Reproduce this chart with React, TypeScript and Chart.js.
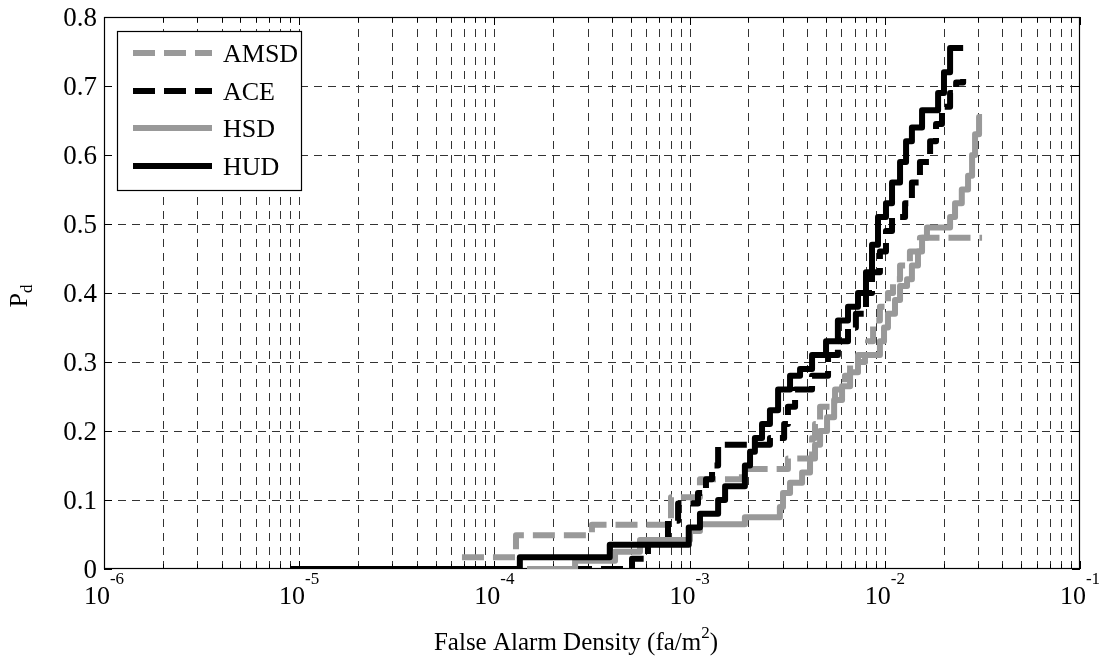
import React, { useEffect, useRef } from "react";
import { Chart, registerables } from "chart.js";

Chart.register(...registerables);

// ---------- data ----------
const SERIES_NAMES = ["AMSD", "ACE", "HSD", "HUD"];

const AMSD_X = [6.82e-5, 1.29e-4, 3.16e-4, 8.03e-4, 1.13e-3, 1.854e-3, 3.19e-3, 4.24e-3, 4.39e-3, 4.66e-3, 5.56e-3, 6.25e-3, 6.64e-3, 7.29e-3, 8.2e-3, 8.71e-3, 9.44e-3, 1.038e-2, 1.102e-2, 1.197e-2, 1.345e-2, 1.514e-2, 3.15e-2];
const AMSD_Y = [0.017, 0.049, 0.064, 0.104, 0.13, 0.145, 0.16, 0.19, 0.21, 0.235, 0.26, 0.28, 0.3, 0.31, 0.33, 0.36, 0.38, 0.4, 0.42, 0.44, 0.46, 0.48, 0.48];

const ACE_X = [2.44e-4, 5.07e-4, 6.12e-4, 7.75e-4, 8.73e-4, 1.104e-3, 1.213e-3, 1.303e-3, 1.4e-3, 2.58e-3, 3.05e-3, 3.19e-3, 3.47e-3, 4.24e-3, 5.12e-3, 5.75e-3, 6.48e-3, 7.11e-3, 8.01e-3, 8.6e-3, 9.44e-3, 1.014e-2, 1.089e-2, 1.27e-2, 1.377e-2, 1.514e-2, 1.706e-2, 1.83e-2, 1.963e-2, 2.16e-2, 2.32e-2, 2.52e-2];
const ACE_Y = [0, 0.015, 0.04, 0.07, 0.095, 0.11, 0.13, 0.15, 0.18, 0.19, 0.21, 0.235, 0.26, 0.28, 0.31, 0.33, 0.35, 0.37, 0.4, 0.43, 0.46, 0.49, 0.51, 0.53, 0.56, 0.59, 0.62, 0.645, 0.67, 0.69, 0.705, 0.71];

const HSD_X = [1.469e-4, 2.59e-4, 4.15e-4, 5.57e-4, 1.005e-3, 1.13e-3, 1.92e-3, 2.9e-3, 3.01e-3, 3.27e-3, 3.77e-3, 4.14e-3, 4.39e-3, 4.66e-3, 5.06e-3, 5.5e-3, 6.04e-3, 6.64e-3, 7.29e-3, 7.92e-3, 9.44e-3, 9.91e-3, 1.038e-2, 1.128e-2, 1.197e-2, 1.3e-2, 1.377e-2, 1.479e-2, 1.552e-2, 1.644e-2, 2.16e-2, 2.29e-2, 2.48e-2, 2.67e-2, 2.8e-2, 2.9e-2, 3.04e-2, 3.15e-2];
const HSD_Y = [0, 0.012, 0.025, 0.042, 0.055, 0.065, 0.075, 0.09, 0.11, 0.125, 0.14, 0.16, 0.18, 0.2, 0.22, 0.245, 0.265, 0.285, 0.3, 0.31, 0.33, 0.35, 0.37, 0.39, 0.41, 0.42, 0.44, 0.46, 0.48, 0.495, 0.51, 0.53, 0.55, 0.57, 0.6, 0.63, 0.655, 0.655];

const HUD_X = [9e-6, 1.35e-4, 3.9e-4, 9.9e-4, 1.13e-3, 1.4e-3, 1.52e-3, 1.92e-3, 2.04e-3, 2.16e-3, 2.35e-3, 2.58e-3, 2.84e-3, 3.27e-3, 3.68e-3, 4.24e-3, 5.0e-3, 5.75e-3, 6.48e-3, 7.29e-3, 8.01e-3, 8.6e-3, 9.23e-3, 1.014e-2, 1.089e-2, 1.197e-2, 1.285e-2, 1.377e-2, 1.552e-2, 1.875e-2, 2.01e-2, 2.16e-2, 2.52e-2];
const HUD_Y = [0, 0.017, 0.035, 0.06, 0.08, 0.1, 0.12, 0.15, 0.17, 0.19, 0.21, 0.23, 0.26, 0.28, 0.29, 0.31, 0.33, 0.36, 0.38, 0.4, 0.43, 0.47, 0.51, 0.53, 0.56, 0.59, 0.62, 0.64, 0.665, 0.69, 0.72, 0.755, 0.755];

const Y_TICKS = [0, 0.1, 0.2, 0.3, 0.4, 0.5, 0.6, 0.7, 0.8];
const Y_TICK_LABELS = ["0", "0.1", "0.2", "0.3", "0.4", "0.5", "0.6", "0.7", "0.8"];
const X_DECADES = [-6, -5, -4, -3, -2, -1];
const X_MINOR_STEPS = [2, 3, 4, 5, 6, 7, 8, 9];
const X_MIN = 1e-6;
const X_MAX = 1e-1;
const Y_MIN = 0;
const Y_MAX = 0.8;

const X_TITLE = "False Alarm Density (fa/m";
const X_TITLE_SUP = "2";
const X_TITLE_END = ")";
const Y_TITLE = "P";
const Y_TITLE_SUB = "d";

// ---------- styles ----------
const GRAY = "#999999";
const BLACK = "#000000";
const FONT = '"Liberation Serif", "Times New Roman", serif';
const LINE_W = 6;
const DASH = [22, 9];
const GRID_DASH = [8, 6];

const STYLES = [
  { color: GRAY, dash: DASH },
  { color: BLACK, dash: DASH },
  { color: GRAY, dash: [] as number[] },
  { color: BLACK, dash: [] as number[] },
];

const SERIES_X = [AMSD_X, ACE_X, HSD_X, HUD_X];
const SERIES_Y = [AMSD_Y, ACE_Y, HSD_Y, HUD_Y];

const axesPlugin = {
  id: "matlabAxes",
  beforeDatasetsDraw(chart: any) {
    const { ctx, chartArea: a } = chart;
    const xs = chart.scales.x;
    const ys = chart.scales.y;
    ctx.save();
    ctx.lineWidth = 1;
    ctx.strokeStyle = "#333333";
    ctx.setLineDash(GRID_DASH);
    ctx.beginPath();
    for (const v of Y_TICKS) {
      const py = Math.round(ys.getPixelForValue(v)) + 0.5;
      if (py <= a.top + 2 || py >= a.bottom - 2) continue;
      ctx.moveTo(a.left, py);
      ctx.lineTo(a.right, py);
    }
    for (const e of X_DECADES) {
      for (const k of [1, ...X_MINOR_STEPS]) {
        const v = k * Math.pow(10, e);
        if (v <= X_MIN * 1.0001 || v >= X_MAX * 0.9999) continue;
        const px = Math.round(xs.getPixelForValue(v)) + 0.5;
        ctx.moveTo(px, a.bottom);
        ctx.lineTo(px, a.top);
      }
    }
    ctx.stroke();
    ctx.setLineDash([]);
    ctx.strokeStyle = "#000";
    ctx.beginPath();
    for (const v of Y_TICKS) {
      const py = Math.round(ys.getPixelForValue(v)) + 0.5;
      ctx.moveTo(a.left, py);
      ctx.lineTo(a.left + 8, py);
      ctx.moveTo(a.right, py);
      ctx.lineTo(a.right - 8, py);
    }
    for (const e of X_DECADES) {
      for (const k of [1, ...X_MINOR_STEPS]) {
        const v = k * Math.pow(10, e);
        if (v < X_MIN * 0.9999 || v > X_MAX * 1.0001) continue;
        const len = k === 1 ? 8 : 5;
        const px = Math.round(xs.getPixelForValue(v)) + 0.5;
        ctx.moveTo(px, a.bottom);
        ctx.lineTo(px, a.bottom - len);
        ctx.moveTo(px, a.top);
        ctx.lineTo(px, a.top + len);
      }
    }
    ctx.stroke();
    ctx.lineWidth = 1.2;
    ctx.strokeRect(a.left + 0.5, a.top + 0.5, a.right - a.left - 1, a.bottom - a.top - 1);
    ctx.restore();
  },
  afterDatasetsDraw(chart: any) {
    const { ctx, chartArea: a } = chart;
    const xs = chart.scales.x;
    const ys = chart.scales.y;
    ctx.save();
    ctx.fillStyle = "#000";
    ctx.textBaseline = "alphabetic";

    // y tick labels
    ctx.font = `27px ${FONT}`;
    ctx.textAlign = "right";
    Y_TICKS.forEach((v, i) => {
      const py = ys.getPixelForValue(v);
      ctx.fillText(Y_TICK_LABELS[i], a.left - 7, py + 9);
    });

    // x tick labels 10^e
    ctx.textAlign = "left";
    for (const e of X_DECADES) {
      const px = xs.getPixelForValue(Math.pow(10, e));
      ctx.font = `26px ${FONT}`;
      const wBase = ctx.measureText("10").width;
      ctx.font = `17px ${FONT}`;
      const expText = String(e);
      const wExp = ctx.measureText(expText).width;
      const x0 = px - (wBase + wExp) / 2;
      ctx.font = `26px ${FONT}`;
      ctx.fillText("10", x0, 604);
      ctx.font = `17px ${FONT}`;
      ctx.fillText(expText, x0 + wBase, 584);
    }

    // x title
    {
      ctx.font = `25px ${FONT}`;
      const w1 = ctx.measureText(X_TITLE).width;
      const w3 = ctx.measureText(X_TITLE_END).width;
      ctx.font = `17px ${FONT}`;
      const w2 = ctx.measureText(X_TITLE_SUP).width;
      const cx = 576;
      const x0 = cx - (w1 + w2 + w3) / 2;
      ctx.font = `25px ${FONT}`;
      ctx.fillText(X_TITLE, x0, 650);
      ctx.font = `17px ${FONT}`;
      ctx.fillText(X_TITLE_SUP, x0 + w1, 638);
      ctx.font = `25px ${FONT}`;
      ctx.fillText(X_TITLE_END, x0 + w1 + w2, 650);
    }

    // y title
    {
      ctx.save();
      ctx.translate(27, 296);
      ctx.rotate(-Math.PI / 2);
      ctx.font = `26px ${FONT}`;
      const wP = ctx.measureText(Y_TITLE).width;
      ctx.font = `17px ${FONT}`;
      const wd = ctx.measureText(Y_TITLE_SUB).width;
      const x0 = -(wP + wd) / 2;
      ctx.font = `26px ${FONT}`;
      ctx.fillText(Y_TITLE, x0, 0);
      ctx.font = `17px ${FONT}`;
      ctx.fillText(Y_TITLE_SUB, x0 + wP, 5);
      ctx.restore();
    }

    // legend
    {
      const bx = 117, by = 31, bw = 184, bh = 159;
      ctx.fillStyle = "#fff";
      ctx.fillRect(bx, by, bw, bh);
      ctx.strokeStyle = "#000";
      ctx.lineWidth = 1.2;
      ctx.strokeRect(bx + 0.5, by + 0.5, bw, bh);
      const rows = [53, 91, 128, 166];
      SERIES_NAMES.forEach((name, i) => {
        const yy = rows[i];
        ctx.strokeStyle = STYLES[i].color;
        ctx.lineWidth = LINE_W;
        ctx.lineCap = "butt";
        ctx.setLineDash(STYLES[i].dash);
        ctx.beginPath();
        ctx.moveTo(133, yy);
        ctx.lineTo(212, yy);
        ctx.stroke();
        ctx.setLineDash([]);
        ctx.fillStyle = "#000";
        ctx.font = `26px ${FONT}`;
        ctx.textAlign = "left";
        ctx.fillText(name, 223, yy + 9);
      });
    }
    ctx.restore();
  },
};

export default function App() {
  const ref = useRef<HTMLCanvasElement | null>(null);
  useEffect(() => {
    if (!ref.current) return;
    const datasets = SERIES_NAMES.map((name, i) => ({
      label: name,
      data: SERIES_X[i].map((x, j) => ({ x, y: SERIES_Y[i][j] })),
      borderColor: STYLES[i].color,
      backgroundColor: STYLES[i].color,
      borderWidth: LINE_W,
      borderDash: STYLES[i].dash,
      borderJoinStyle: "round" as const,
      borderCapStyle: "butt" as const,
      stepped: "before" as const,
      pointRadius: 0,
      fill: false,
      order: 4 - i,
    }));
    const chart = new Chart(ref.current, {
      type: "line",
      data: { datasets },
      options: {
        responsive: false,
        animation: false,
        devicePixelRatio: 1,
        layout: { padding: { left: 104, right: 27, top: 17, bottom: 96 } },
        plugins: { legend: { display: false }, tooltip: { enabled: false } },
        scales: {
          x: { type: "logarithmic", min: X_MIN, max: X_MAX, display: false },
          y: { type: "linear", min: Y_MIN, max: Y_MAX, display: false },
        },
      },
      plugins: [axesPlugin],
    });
    return () => chart.destroy();
  }, []);
  return (
    <div style={{ position: "fixed", left: 0, top: 0, width: 1107, height: 665, background: "#fff" }}>
      <canvas ref={ref} width={1107} height={665} style={{ display: "block" }} />
    </div>
  );
}
